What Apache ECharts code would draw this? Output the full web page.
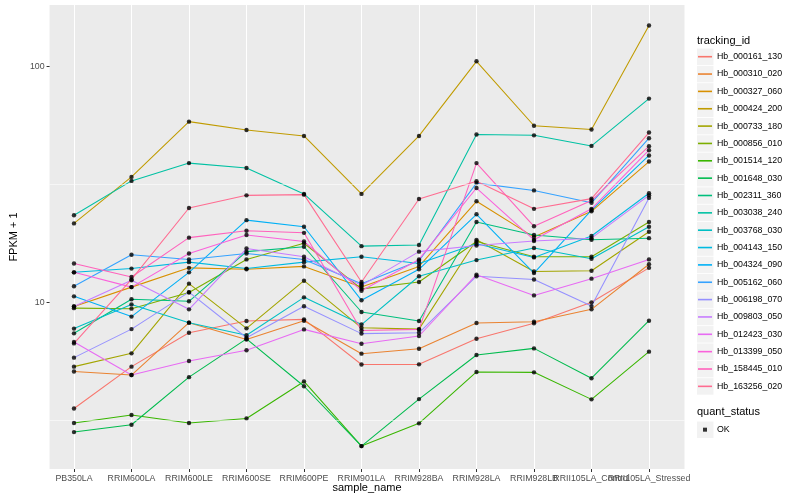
<!DOCTYPE html>
<html><head><meta charset="utf-8">
<script src="https://cdn.jsdelivr.net/npm/echarts@6/dist/echarts.min.js"></script>
<style>html,body{margin:0;padding:0;background:#fff}#c{width:800px;height:500px}</style>
</head><body><div id="c"></div>
<script>
// ---------- data ----------
const categories = ['PB350LA','RRIM600LA','RRIM600LE','RRIM600SE','RRIM600PE','RRIM901LA','RRIM928BA','RRIM928LA','RRIM928LB','RRII105LA_Control','RRII105LA_Stressed'];
const trackingIds = ['Hb_000161_130','Hb_000310_020','Hb_000327_060','Hb_000424_200','Hb_000733_180','Hb_000856_010','Hb_001514_120','Hb_001648_030','Hb_002311_360','Hb_003038_240','Hb_003768_030','Hb_004143_150','Hb_004324_090','Hb_005162_060','Hb_006198_070','Hb_009803_050','Hb_012423_030','Hb_013399_050','Hb_158445_010','Hb_163256_020'];
const colors = ['#F8766D','#EA8331','#D89000','#C09B00','#A3A500','#7CAE00','#39B600','#00BB4E','#00BF7D','#00C1A3','#00BFC4','#00BAE0','#00B0F6','#35A2FF','#9590FF','#C77CFF','#E76BF3','#FA62DB','#FF62BC','#FF6C91'];

const Hb_000161_130 = [3.55, 5.34, 7.43, 8.33, 8.47, 5.45, 5.46, 7.01, 8.15, 10.0, 14.0];
const Hb_000310_020 = [5.09, 4.92, 8.2, 6.96, 8.36, 6.06, 6.36, 8.17, 8.28, 9.34, 14.5];
const Hb_000327_060 = [9.6, 11.6, 14.0, 13.8, 14.2, 11.6, 14.2, 26.8, 18.9, 24.3, 39.5];
const Hb_000424_200 = [21.6, 34, 58.3, 53.7, 50.7, 28.8, 50.7, 105, 56, 54, 149];
const Hb_000733_180 = [5.34, 6.08, 12.0, 7.76, 12.35, 7.8, 7.7, 18.4, 13.5, 13.6, 19.9];
const Hb_000856_010 = [9.45, 9.4, 11.0, 15.2, 17.8, 11.4, 12.2, 18.1, 15.6, 15.6, 21.9];
const Hb_001514_120 = [3.08, 3.33, 3.08, 3.22, 4.62, 2.46, 3.07, 5.07, 5.05, 3.88, 6.18];
const Hb_001648_030 = [2.82, 3.03, 4.82, 7.0, 4.41, 2.46, 3.89, 5.98, 6.38, 4.77, 8.36];
const Hb_002311_360 = [7.39, 10.3, 10.1, 16.4, 17.2, 9.1, 8.33, 21.9, 19.3, 18.4, 18.7];
const Hb_003038_240 = [23.4, 32.7, 38.9, 37.1, 28.8, 17.3, 17.5, 51.4, 51, 46, 73];
const Hb_003768_030 = [7.74, 9.8, 8.2, 7.25, 10.5, 8.05, 12.9, 15.1, 17.0, 15.3, 20.9];
const Hb_004143_150 = [13.4, 13.9, 14.8, 13.9, 14.8, 15.6, 14.6, 17.7, 15.5, 19.1, 29.0];
const Hb_004324_090 = [10.6, 8.7, 13.4, 22.3, 20.9, 10.2, 13.8, 23.6, 13.3, 24.6, 41.9];
const Hb_005162_060 = [11.7, 15.9, 15.2, 16.1, 15.2, 12.0, 15.0, 32.0, 29.8, 26.4, 49.6];
const Hb_006198_070 = [5.83, 7.7, 11.05, 7.08, 9.62, 7.37, 7.43, 12.9, 12.5, 9.64, 27.7];
const Hb_009803_050 = [9.6, 12.4, 9.34, 16.9, 15.6, 11.8, 16.4, 17.4, 18.2, 18.7, 28.4];
const Hb_012423_030 = [6.79, 4.92, 5.64, 6.27, 7.68, 6.68, 7.2, 13.1, 10.7, 12.6, 15.2];
const Hb_013399_050 = [13.4, 11.6, 16.1, 19.3, 18.1, 11.2, 15.2, 30.5, 18.4, 24.9, 44.1];
const Hb_158445_010 = [14.6, 12.8, 18.8, 20.1, 19.7, 7.6, 7.68, 38.9, 21.0, 27.0, 45.9];
const Hb_163256_020 = [6.7, 12.5, 25.1, 28.4, 28.6, 12.2, 27.4, 32.6, 24.9, 27.5, 52.4];

const seriesValues = [Hb_000161_130, Hb_000310_020, Hb_000327_060, Hb_000424_200, Hb_000733_180, Hb_000856_010, Hb_001514_120, Hb_001648_030, Hb_002311_360, Hb_003038_240, Hb_003768_030, Hb_004143_150, Hb_004324_090, Hb_005162_060, Hb_006198_070, Hb_009803_050, Hb_012423_030, Hb_013399_050, Hb_158445_010, Hb_163256_020];

const yMajorTicks = [10, 100];
const yMinorTicks = [3.1623, 31.623];
const quantStatus = ['OK'];

// ---------- chart ----------
const FONT = '"Liberation Sans", Arial, Helvetica, sans-serif';
const chart = echarts.init(document.getElementById('c'));

const lineSeries = trackingIds.map((id, i) => ({
  name: id, type: 'line', xAxisIndex: 1, yAxisIndex: 1,
  data: seriesValues[i], symbol: 'none', showSymbol: false,
  lineStyle: { color: colors[i], width: 1.07 }, itemStyle: { color: colors[i] },
  z: 2, silent: true, animation: false
}));

const points = [];
seriesValues.forEach(arr => arr.forEach((v, j) => points.push([j, v])));

const ITEM_H = 17.35, FIRST_C = 56.7;
const keyBoxes = trackingIds.map((_, i) => ({
  type: 'rect', z: 0, silent: true,
  shape: { x: 697, y: FIRST_C + ITEM_H * i - 8.2, width: 16.5, height: 16.5 },
  style: { fill: '#F2F2F2' }
}));

chart.setOption({
  animation: false,
  grid: [
    { left: 40, right: 115.5, top: 5, bottom: 31, show: true, backgroundColor: '#EBEBEB', borderWidth: 0 },
    { left: 74, right: 151, top: 5, bottom: 31 }
  ],
  xAxis: [
    { gridIndex: 0, type: 'category', data: categories, boundaryGap: false,
      axisLine: { show: false }, axisTick: { show: false }, axisLabel: { show: false }, splitLine: { show: false },
      name: 'sample_name', nameLocation: 'middle', nameGap: 13,
      nameTextStyle: { fontSize: 11, color: '#000', fontFamily: FONT } },
    { gridIndex: 1, type: 'category', data: categories, boundaryGap: false,
      axisLine: { show: false },
      axisTick: { show: true, interval: 0, length: 3, lineStyle: { color: '#333', width: 1 } },
      axisLabel: { interval: 0, fontSize: 8.8, color: '#4D4D4D', margin: 5, fontFamily: FONT, hideOverlap: false },
      splitLine: { show: true, interval: 0, lineStyle: { color: '#fff', width: 1.07 } } }
  ],
  yAxis: [
    { gridIndex: 0, type: 'log', logBase: 10, min: 1.967, max: 181.9,
      axisLine: { show: false },
      axisTick: { show: true, customValues: yMajorTicks, length: 3, lineStyle: { color: '#333', width: 1 } },
      axisLabel: { customValues: yMajorTicks, fontSize: 8.8, color: '#4D4D4D', margin: 5, fontFamily: FONT,
        formatter: v => { const r = Math.round(v); return (yMajorTicks.indexOf(r) >= 0 && Math.abs(v - r) < 1e-6) ? String(r) : ''; } },
      splitLine: { show: true, showMinLine: false, showMaxLine: false, lineStyle: { color: '#fff', width: 1.07 } },
      name: 'FPKM + 1', nameLocation: 'middle', nameGap: 23,
      nameTextStyle: { fontSize: 11, color: '#000', fontFamily: FONT } },
    { gridIndex: 1, type: 'log', logBase: 10, min: 1.967, max: 181.9, show: false }
  ],
  legend: [
    { data: trackingIds.map((n, i) => ({ name: n, itemStyle: { color: colors[i], borderWidth: 0 } })),
      orient: 'vertical', left: 698, top: FIRST_C - ITEM_H / 2, padding: 0, itemGap: 0,
      itemWidth: 14, itemHeight: 1.6, icon: 'rect', selectedMode: false,
      itemStyle: { borderWidth: 0 },
      textStyle: { fontSize: 8.8, color: '#000', fontFamily: FONT, lineHeight: ITEM_H } },
    { data: quantStatus.map(n => ({ name: n, itemStyle: { color: '#000', borderWidth: 0 } })),
      orient: 'vertical', left: 703, top: 421, padding: 0, itemGap: 0,
      itemWidth: 4, itemHeight: 4, icon: 'rect', selectedMode: false,
      itemStyle: { borderWidth: 0 },
      textStyle: { fontSize: 8.8, color: '#000', fontFamily: FONT, lineHeight: ITEM_H, padding: [0, 0, 0, 5] } }
  ],
  graphic: [
    ...keyBoxes,
    { type: 'rect', z: 0, silent: true, shape: { x: 697, y: 421.5, width: 16.5, height: 16.5 }, style: { fill: '#F2F2F2' } },
    { type: 'text', z: 0, silent: true, style: { x: 697, y: 40.7, text: 'tracking_id', fill: '#000', fontSize: 11, fontFamily: FONT, verticalAlign: 'middle', align: 'left' } },
    { type: 'text', z: 0, silent: true, style: { x: 697, y: 412, text: 'quant_status', fill: '#000', fontSize: 11, fontFamily: FONT, verticalAlign: 'middle', align: 'left' } }
  ],
  series: [
    { name: 'minor-grid', type: 'line', xAxisIndex: 0, yAxisIndex: 0, data: [], z: 1, silent: true,
      markLine: { silent: true, symbol: ['none', 'none'], label: { show: false },
        lineStyle: { color: '#fff', width: 0.55, type: 'solid' },
        data: yMinorTicks.map(v => ({ yAxis: v })) } },
    ...lineSeries,
    { name: 'OK', type: 'scatter', xAxisIndex: 1, yAxisIndex: 1, data: points,
      symbol: 'circle', symbolSize: 4.4, itemStyle: { color: '#000' }, z: 4, silent: true }
  ]
});
</script>
</body></html>
